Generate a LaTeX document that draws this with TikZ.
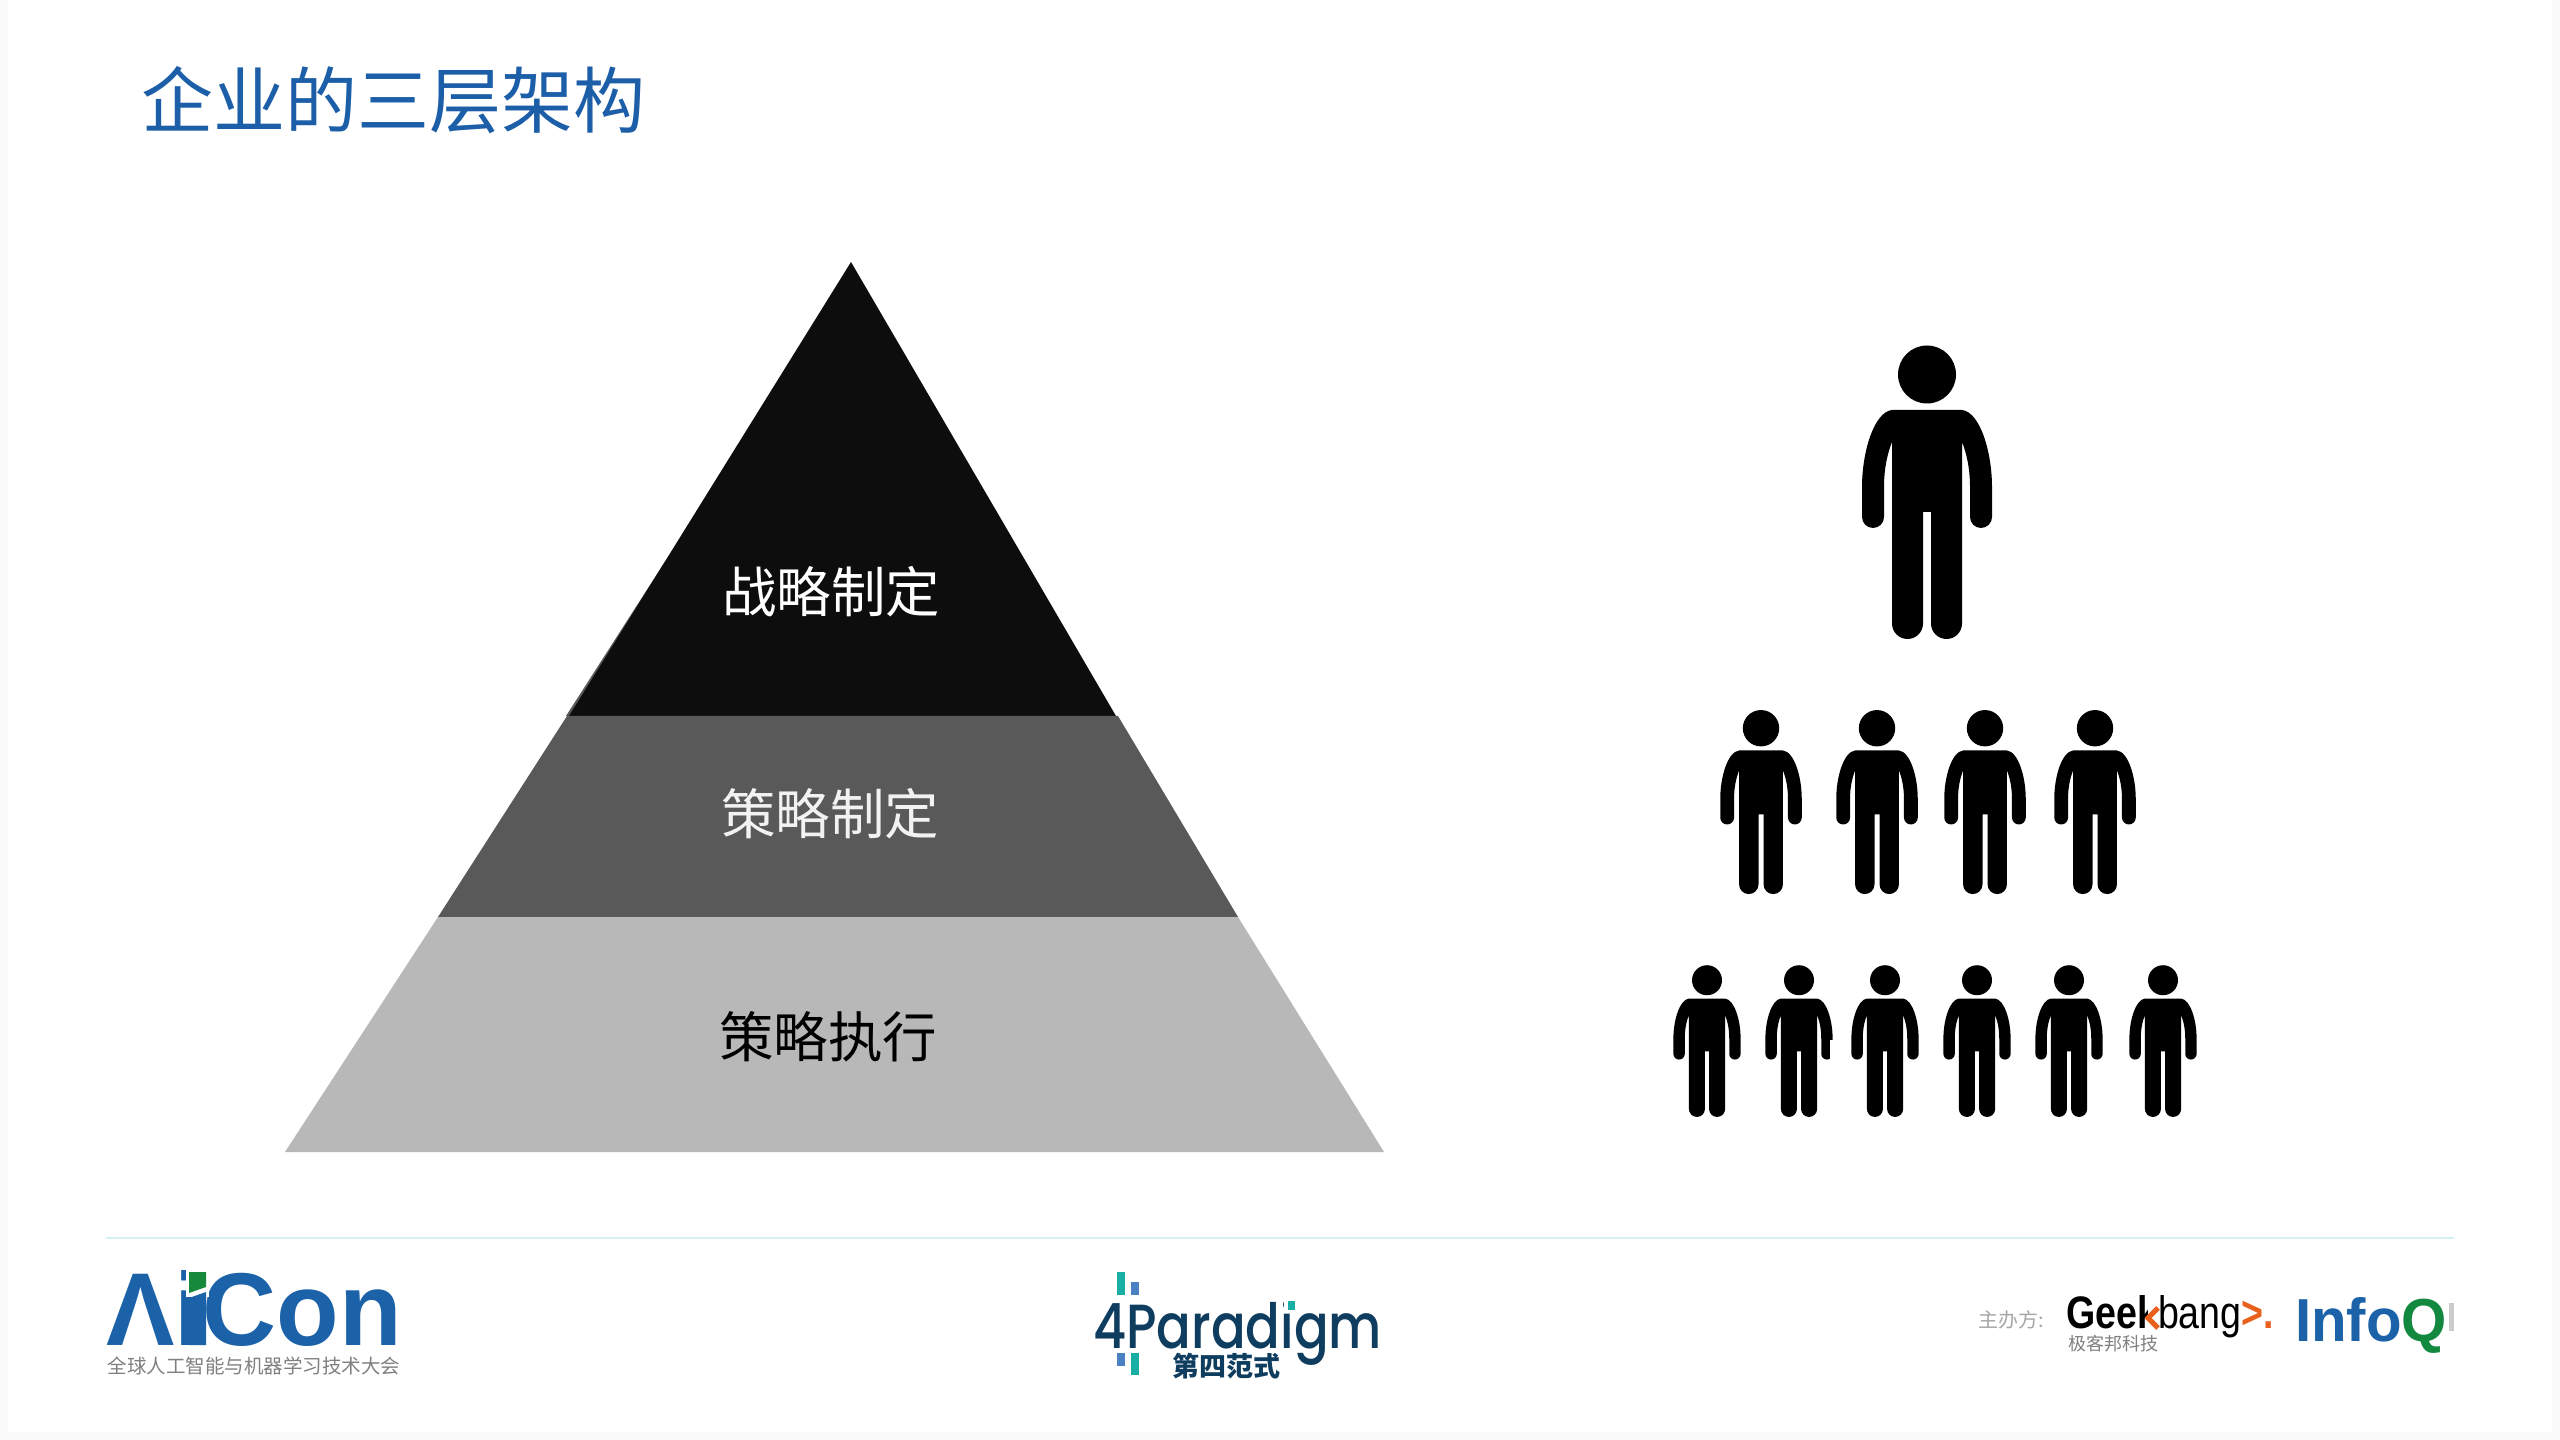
\documentclass[tikz,border=0pt]{standalone}
\usepackage{fontspec}
\setmainfont{Noto Sans CJK SC}
\newfontfamily\latfont{Liberation Sans}
\newfontfamily\popfont{Poppins Medium}
\newlength\pxu \setlength\pxu{0.01cm}
\newcommand\pxfont[1]{\fontsize{#1\pxu}{#1\pxu}\selectfont}
\definecolor{titleblue}{HTML}{1C5FA8}
\definecolor{aiblue}{HTML}{1B62A8}
\definecolor{aigreen}{HTML}{168A3A}
\definecolor{navy}{HTML}{0F3D5F}
\definecolor{teal4}{HTML}{1AAFA5}
\definecolor{blue4}{HTML}{4A80C4}
\definecolor{orangeG}{HTML}{E8601C}
\definecolor{qgreen}{HTML}{12893F}
\definecolor{ruleblue}{HTML}{D8F1F8}
\tikzset{
  txt/.style={inner sep=0pt,outer sep=0pt},
  pyrlabel/.style={txt,font=\pxfont{54.5}},
  person/.pic={
    \fill[black] (0,27.5) circle[radius=29];
    \fill[black] (-35,63) .. controls (-53,65) and (-65,105) .. (-65,140) -- (-65,170)
      arc[start angle=180,end angle=0,radius=11]
      -- (-43,140) .. controls (-43,120) and (-39,105) .. (-35,95) -- (-35,276.5)
      arc[start angle=180,end angle=0,radius=15.5]
      -- (-4,165) -- (4,165) -- (4,276.5)
      arc[start angle=180,end angle=0,radius=15.5]
      -- (35,95) .. controls (39,105) and (43,120) .. (43,140) -- (43,170)
      arc[start angle=180,end angle=0,radius=11]
      -- (65,140) .. controls (65,105) and (53,65) .. (35,63) -- cycle;
  }
}
\begin{document}
\begin{tikzpicture}[x=0.01cm,y=-0.01cm]
\useasboundingbox (0,0) rectangle (2560,1440);
\fill[black!1.5] (0,0) rectangle (2560,1440);
\fill[white] (8,0) rectangle (2552,1432);
% title
\node[txt,font=\pxfont{72},text=titleblue,anchor=west] (title) at (141,100) {企业的三层架构};
% pyramid
\fill[black!65] (666,560) -- (566,716) -- (572,716) -- cycle;
\fill[fill=black!95] (851,262) -- (1116,716) -- (569,716) -- cycle;
\fill[fill=black!65] (567,716) -- (1118,716) -- (1238,917) -- (438,917) -- cycle;
\fill[fill=black!28] (438,917) -- (1238,917) -- (1384,1152) -- (285,1152) -- cycle;
\node[pyrlabel,text=white] (l1) at (831,592) {战略制定};
\node[pyrlabel,text=white!95!black] (l2) at (830,814) {策略制定};
\node[pyrlabel,text=black] (l3) at (828,1037) {策略执行};
% people
\pic at (1927,347) {person};
\foreach \x in {1761,1877,1985,2095} \pic[scale=.627] at (\x,711) {person};
\foreach \x in {1707,1799,1885,1977,2069,2163} \pic[scale=.517] at (\x,966) {person};
\fill[white] (1830,1040) rectangle (1838,1065);
% rule
\draw[ruleblue,line width=2\pxu] (106,1238) -- (2454,1238);
% AiCon
\node[txt,anchor=base west,text=aiblue] (aicon) at (106,1345)
  {\resizebox{296\pxu}{75\pxu}{\latfont\bfseries ΛiCon}};
\fill[white] (186,1265) rectangle (209,1297);
\fill[aigreen] (189,1272) -- (206,1272) -- (206,1287) -- (189,1293) -- cycle;
\fill[aiblue] (189,1298) -- (206,1292) -- (206,1345) -- (189,1345) -- cycle;
\node[txt,text=black!50,font=\pxfont{19.5},anchor=center] (aisub) at (254,1366) {全球人工智能与机器学习技术大会};
% 4Paradigm
\node[txt,anchor=base west,text=navy] (para) at (1093,1348)
  {\resizebox{289\pxu}{48\pxu}{\popfont 4Paradigm}};
\fill[teal4] (1117,1272) rectangle (1125,1295);
\fill[blue4] (1131,1282) rectangle (1139,1295);
\fill[blue4] (1117,1353) rectangle (1125,1366);
\fill[teal4] (1131,1353) rectangle (1139,1375);
\fill[white] (1284,1298) rectangle (1300,1311);
\fill[teal4] (1288,1301) rectangle (1295,1310);
\node[txt,text=navy,font=\pxfont{27}\bfseries,anchor=center] (para4) at (1226,1366) {第四范式};
% Geekbang
\node[txt,text=black!35,font=\pxfont{20},anchor=west] (host) at (1978,1320) {主办方:};
\node[txt,anchor=base west] (geek) at (2066,1328)
  {\resizebox{208\pxu}{33\pxu}{\latfont\textbf{Geek}bang\textcolor{orangeG}{\textbf{>.}}}};
\fill[white] (2148,1296) rectangle (2158,1330);
\draw[orangeG,line width=5\pxu] (2158,1308) -- (2148,1318) -- (2158,1328);
\node[txt,text=black!50,font=\pxfont{18},anchor=west] (geekcn) at (2068,1344) {极客邦科技};
% InfoQ
\node[txt,anchor=base west] (infoq) at (2295,1341)
  {\resizebox{152\pxu}{44\pxu}{\latfont\bfseries\textcolor{aiblue}{Info}\textcolor{qgreen}{Q}}};
\fill[black!20] (2449,1303) rectangle (2454,1331);
\end{tikzpicture}
\end{document}
